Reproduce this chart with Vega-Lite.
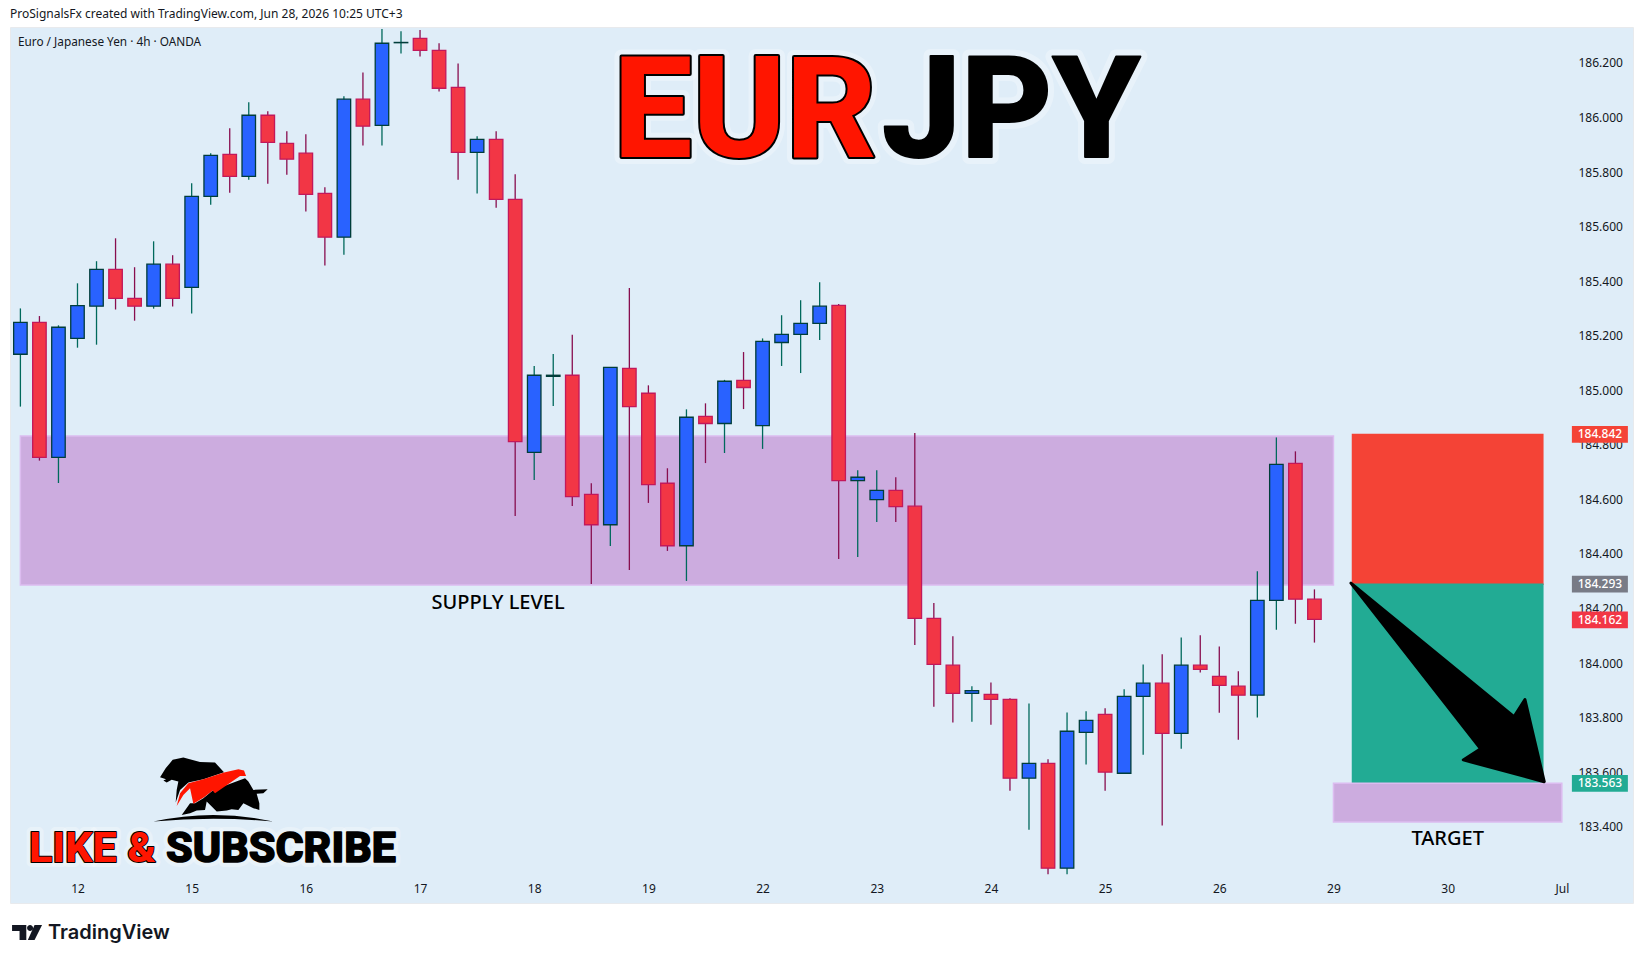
{
  "$schema": "https://vega.github.io/schema/vega-lite/v6.json",
  "width": 1623,
  "height": 876,
  "autosize": "none",
  "padding": {"left": 10, "top": 27, "right": 10, "bottom": 60},
  "background": "#ffffff",
  "view": {"fill": "#dfedf8", "stroke": "#e8eaed"},
  "title": {"text": "ProSignalsFx created with TradingView.com, Jun 28, 2026 10:25 UTC+3", "anchor": "start", "frame": "group", "offset": 6, "font": "Noto Sans", "fontSize": 12, "fontWeight": "normal", "color": "#131722"},
  "datasets": {
    "candles": [
      {"bar":0,"open":185.132,"high":185.300,"low":184.940,"close":185.249},
      {"bar":1,"open":185.249,"high":185.272,"low":184.742,"close":184.754},
      {"bar":2,"open":184.754,"high":185.238,"low":184.660,"close":185.231},
      {"bar":3,"open":185.190,"high":185.392,"low":185.156,"close":185.310},
      {"bar":4,"open":185.308,"high":185.473,"low":185.167,"close":185.443},
      {"bar":5,"open":185.443,"high":185.557,"low":185.296,"close":185.337},
      {"bar":6,"open":185.337,"high":185.451,"low":185.255,"close":185.308},
      {"bar":7,"open":185.308,"high":185.546,"low":185.299,"close":185.462},
      {"bar":8,"open":185.462,"high":185.495,"low":185.307,"close":185.337},
      {"bar":9,"open":185.377,"high":185.759,"low":185.281,"close":185.711},
      {"bar":10,"open":185.711,"high":185.869,"low":185.680,"close":185.861},
      {"bar":11,"open":185.865,"high":185.960,"low":185.724,"close":185.784},
      {"bar":12,"open":185.784,"high":186.056,"low":185.772,"close":186.008},
      {"bar":13,"open":186.008,"high":186.023,"low":185.757,"close":185.909},
      {"bar":14,"open":185.905,"high":185.949,"low":185.790,"close":185.847},
      {"bar":15,"open":185.869,"high":185.938,"low":185.655,"close":185.718},
      {"bar":16,"open":185.722,"high":185.744,"low":185.457,"close":185.561},
      {"bar":17,"open":185.561,"high":186.078,"low":185.497,"close":186.067},
      {"bar":18,"open":186.067,"high":186.165,"low":185.897,"close":185.968},
      {"bar":19,"open":185.971,"high":186.324,"low":185.897,"close":186.272},
      {"bar":20,"open":186.274,"high":186.316,"low":186.234,"close":186.275},
      {"bar":21,"open":186.290,"high":186.321,"low":186.223,"close":186.246},
      {"bar":22,"open":186.246,"high":186.272,"low":186.095,"close":186.107},
      {"bar":23,"open":186.110,"high":186.198,"low":185.772,"close":185.872},
      {"bar":24,"open":185.872,"high":185.931,"low":185.721,"close":185.920},
      {"bar":25,"open":185.920,"high":185.949,"low":185.669,"close":185.700},
      {"bar":26,"open":185.700,"high":185.792,"low":184.539,"close":184.812},
      {"bar":27,"open":184.772,"high":185.089,"low":184.671,"close":185.055},
      {"bar":28,"open":185.051,"high":185.133,"low":184.942,"close":185.055},
      {"bar":29,"open":185.055,"high":185.203,"low":184.576,"close":184.610},
      {"bar":30,"open":184.618,"high":184.659,"low":184.290,"close":184.507},
      {"bar":31,"open":184.507,"high":185.084,"low":184.429,"close":185.084},
      {"bar":32,"open":185.080,"high":185.375,"low":184.341,"close":184.940},
      {"bar":33,"open":184.989,"high":185.018,"low":184.587,"close":184.654},
      {"bar":34,"open":184.659,"high":184.714,"low":184.411,"close":184.430},
      {"bar":35,"open":184.430,"high":184.930,"low":184.301,"close":184.901},
      {"bar":36,"open":184.904,"high":184.952,"low":184.733,"close":184.878},
      {"bar":37,"open":184.878,"high":185.038,"low":184.770,"close":185.033},
      {"bar":38,"open":185.036,"high":185.140,"low":184.931,"close":185.010},
      {"bar":39,"open":184.870,"high":185.190,"low":184.785,"close":185.179},
      {"bar":40,"open":185.175,"high":185.275,"low":185.089,"close":185.205},
      {"bar":41,"open":185.205,"high":185.330,"low":185.063,"close":185.245},
      {"bar":42,"open":185.245,"high":185.396,"low":185.184,"close":185.308},
      {"bar":43,"open":185.311,"high":185.316,"low":184.381,"close":184.669},
      {"bar":44,"open":184.669,"high":184.707,"low":184.389,"close":184.681},
      {"bar":45,"open":184.599,"high":184.707,"low":184.517,"close":184.633},
      {"bar":46,"open":184.633,"high":184.681,"low":184.517,"close":184.573},
      {"bar":47,"open":184.575,"high":184.843,"low":184.066,"close":184.164},
      {"bar":48,"open":184.164,"high":184.220,"low":183.840,"close":183.995},
      {"bar":49,"open":183.992,"high":184.098,"low":183.782,"close":183.889},
      {"bar":50,"open":183.889,"high":183.915,"low":183.785,"close":183.899},
      {"bar":51,"open":183.885,"high":183.929,"low":183.774,"close":183.867},
      {"bar":52,"open":183.867,"high":183.871,"low":183.532,"close":183.578},
      {"bar":53,"open":183.578,"high":183.852,"low":183.389,"close":183.632},
      {"bar":54,"open":183.632,"high":183.647,"low":183.226,"close":183.248},
      {"bar":55,"open":183.248,"high":183.819,"low":183.226,"close":183.750},
      {"bar":56,"open":183.746,"high":183.823,"low":183.628,"close":183.790},
      {"bar":57,"open":183.812,"high":183.834,"low":183.532,"close":183.600},
      {"bar":58,"open":183.596,"high":183.904,"low":183.596,"close":183.878},
      {"bar":59,"open":183.878,"high":183.995,"low":183.664,"close":183.926},
      {"bar":60,"open":183.926,"high":184.032,"low":183.404,"close":183.742},
      {"bar":61,"open":183.742,"high":184.094,"low":183.686,"close":183.992},
      {"bar":62,"open":183.992,"high":184.102,"low":183.965,"close":183.977},
      {"bar":63,"open":183.951,"high":184.061,"low":183.818,"close":183.918},
      {"bar":64,"open":183.915,"high":183.970,"low":183.719,"close":183.882},
      {"bar":65,"open":183.882,"high":184.336,"low":183.800,"close":184.230},
      {"bar":66,"open":184.230,"high":184.827,"low":184.122,"close":184.728},
      {"bar":67,"open":184.732,"high":184.776,"low":184.144,"close":184.234},
      {"bar":68,"open":184.234,"high":184.270,"low":184.075,"close":184.160}
    ],
    "zones": [
      {"zone":"supply","from":0,"to":69,"top":184.832,"bottom":184.286},
      {"zone":"stop","from":70,"to":80,"top":184.838,"bottom":184.289},
      {"zone":"profit","from":70,"to":80,"top":184.289,"bottom":183.559},
      {"zone":"target","from":69,"to":81,"top":183.559,"bottom":183.417}
    ],
    "tags": [
      {"price":184.838,"label":"184.842","kind":"stop"},
      {"price":184.289,"label":"184.293","kind":"entry"},
      {"price":184.158,"label":"184.162","kind":"last"},
      {"price":183.559,"label":"183.563","kind":"target"}
    ]
  },
  "layer": [
    {
      "data": {"name": "zones"},
      "mark": {"type": "rect", "strokeWidth": 1.5},
      "encoding": {
        "x": {"field": "from", "type": "quantitative", "scale": {"domain": [-0.5465, 84.74], "nice": false, "zero": false, "padding": 0}, "title": null,
          "axis": {"orient": "bottom", "values": [3,9,15,21,27,33,39,45,51,57,63,69,75,81], "labelExpr": "['12','15','16','17','18','19','22','23','24','25','26','29','30','Jul'][(datum.value-3)/6]", "domain": false, "ticks": false, "grid": false, "offset": -20, "labelPadding": 0, "labelBaseline": "top", "labelFont": "Noto Sans", "labelFontSize": 12, "labelColor": "#131722", "labelOverlap": false, "labelFlush": false, "labelBound": false}},
        "x2": {"field": "to"},
        "y": {"field": "top", "type": "quantitative", "scale": {"domain": [183.1203, 186.3316], "nice": false, "zero": false, "padding": 0}, "title": null,
          "axis": {"orient": "right", "values": [183.4,183.6,183.8,184,184.2,184.4,184.6,184.8,185,185.2,185.4,185.6,185.8,186,186.2], "format": ".3f", "domain": false, "ticks": false, "grid": false, "offset": -55, "labelPadding": 0, "labelAlign": "left", "labelFont": "Noto Sans", "labelFontSize": 12, "labelColor": "#131722", "labelOverlap": false, "labelFlush": false, "labelBound": false}},
        "y2": {"field": "bottom"},
        "fill": {"field": "zone", "type": "nominal", "legend": null, "scale": {"domain": ["supply","stop","profit","target"], "range": ["#ccacdf","#f44336","#22ab94","#ccacdf"]}},
        "stroke": {"field": "zone", "type": "nominal", "legend": null, "scale": {"domain": ["supply","stop","profit","target"], "range": ["#dcbcf0","#f44336","#22ab94","#dcbcf0"]}}
      }
    },
    {
      "data": {"name": "candles"},
      "mark": {"type": "rule", "strokeWidth": 1.3},
      "encoding": {
        "x": {"field": "bar", "type": "quantitative"},
        "y": {"field": "low", "type": "quantitative"},
        "y2": {"field": "high"},
        "color": {"condition": {"test": "datum.close >= datum.open", "value": "#00695c"}, "value": "#880e4f"}
      }
    },
    {
      "data": {"name": "candles"},
      "mark": {"type": "bar", "size": 13.5, "strokeWidth": 1.3},
      "encoding": {
        "x": {"field": "bar", "type": "quantitative"},
        "y": {"field": "open", "type": "quantitative"},
        "y2": {"field": "close"},
        "fill": {"condition": {"test": "datum.close >= datum.open", "value": "#2962ff"}, "value": "#f23645"},
        "stroke": {"condition": {"test": "datum.close >= datum.open", "value": "#003d3a"}, "value": "#c2185b"}
      }
    },
    {
      "data": {"values": [{"bar": 75, "price": 183.929}]},
      "mark": {"type": "point", "filled": true, "opacity": 1, "color": "#000000", "stroke": "#000000", "strokeWidth": 3, "strokeJoin": "round", "size": 40000,
        "shape": "M-0.967,-0.993L0.663,0.343L0.773,0.171L0.966,0.993L0.156,0.775L0.33,0.664Z"},
      "encoding": {"x": {"field": "bar", "type": "quantitative"}, "y": {"field": "price", "type": "quantitative"}}
    },
    {
      "data": {"name": "tags"},
      "mark": {"type": "point", "filled": true, "opacity": 1, "size": 3136, "shape": "M-1,-0.3L1,-0.3L1,0.3L-1,0.3Z"},
      "encoding": {
        "x": {"datum": 83, "type": "quantitative"},
        "y": {"field": "price", "type": "quantitative"},
        "color": {"field": "kind", "type": "nominal", "legend": null, "scale": {"domain": ["stop","entry","last","target"], "range": ["#f44336","#787b86","#f23645","#22ab94"]}}
      }
    },
    {
      "data": {"name": "tags"},
      "mark": {"type": "text", "font": "Noto Sans", "fontSize": 12, "fontWeight": 500, "color": "#ffffff", "align": "center", "baseline": "middle"},
      "encoding": {
        "x": {"datum": 83, "type": "quantitative"},
        "y": {"field": "price", "type": "quantitative"},
        "text": {"field": "label"}
      }
    },
    {
      "data": {"values": [{"bar": -0.13, "price": 186.277, "label": "Euro / Japanese Yen · 4h · OANDA"}]},
      "mark": {"type": "text", "font": "Noto Sans", "fontSize": 11.8, "color": "#131722", "align": "left", "baseline": "middle"},
      "encoding": {"x": {"field": "bar", "type": "quantitative"}, "y": {"field": "price", "type": "quantitative"}, "text": {"field": "label"}}
    },
    {
      "data": {"values": [{"bar": 25.1, "price": 184.198, "label": "SUPPLY LEVEL"}, {"bar": 75, "price": 183.332, "label": "TARGET"}]},
      "mark": {"type": "text", "font": "Noto Sans", "fontSize": 20, "fontWeight": 500, "color": "#000000", "align": "center", "baseline": "alphabetic"},
      "encoding": {"x": {"field": "bar", "type": "quantitative"}, "y": {"field": "price", "type": "quantitative"}, "text": {"field": "label"}}
    },
    {
      "data": {"values": [{"bar": 45.01, "price": 185.855, "label": "EUR"}]},
      "mark": {"type": "text", "font": "Roboto", "fontSize": 141, "fontWeight": 800, "align": "right", "baseline": "alphabetic", "stroke": "#ffffff", "strokeWidth": 14, "strokeOpacity": 0.3, "strokeJoin": "round", "fill": "#ffffff"},
      "encoding": {"x": {"field": "bar", "type": "quantitative"}, "y": {"field": "price", "type": "quantitative"}, "text": {"field": "label"}}
    },
    {
      "data": {"values": [{"bar": 45.28, "price": 185.855, "label": "JPY"}]},
      "mark": {"type": "text", "font": "Roboto", "fontSize": 141, "fontWeight": 800, "align": "left", "baseline": "alphabetic", "stroke": "#ffffff", "strokeWidth": 14, "strokeOpacity": 0.3, "strokeJoin": "round", "fill": "#ffffff"},
      "encoding": {"x": {"field": "bar", "type": "quantitative"}, "y": {"field": "price", "type": "quantitative"}, "text": {"field": "label"}}
    },
    {
      "data": {"values": [{"bar": 45.01, "price": 185.855, "label": "EUR"}]},
      "mark": {"type": "text", "font": "Roboto", "fontSize": 141, "fontWeight": 800, "align": "right", "baseline": "alphabetic", "fill": "#000000", "stroke": "#000000", "strokeWidth": 4, "strokeJoin": "round"},
      "encoding": {"x": {"field": "bar", "type": "quantitative"}, "y": {"field": "price", "type": "quantitative"}, "text": {"field": "label"}}
    },
    {
      "data": {"values": [{"bar": 45.01, "price": 185.855, "label": "EUR"}]},
      "mark": {"type": "text", "font": "Roboto", "fontSize": 141, "fontWeight": 800, "align": "right", "baseline": "alphabetic", "fill": "#ff1500"},
      "encoding": {"x": {"field": "bar", "type": "quantitative"}, "y": {"field": "price", "type": "quantitative"}, "text": {"field": "label"}}
    },
    {
      "data": {"values": [{"bar": 45.28, "price": 185.855, "label": "JPY"}]},
      "mark": {"type": "text", "font": "Roboto", "fontSize": 141, "fontWeight": 800, "align": "left", "baseline": "alphabetic", "fill": "#000000", "stroke": "#000000", "strokeWidth": 2, "strokeJoin": "round"},
      "encoding": {"x": {"field": "bar", "type": "quantitative"}, "y": {"field": "price", "type": "quantitative"}, "text": {"field": "label"}}
    },
    {
      "data": {"values": [{"bar": 10.14, "price": 183.535}]},
      "mark": {"type": "point", "filled": true, "opacity": 1, "color": "#000000", "size": 16044,
        "shape": "M-0.842,-0.2L-0.753,-0.342L-0.642,-0.474L-0.474,-0.511L-0.211,-0.442L0.026,-0.432L0.168,-0.279L-0.158,-0.168L-0.395,-0.116L-0.526,0L-0.595,0.2L-0.579,0L-0.553,-0.132L-0.658,-0.158L-0.737,-0.116L-0.789,-0.147L-0.747,-0.168ZM0.5,-0.184L0.553,-0.132L0.632,0L0.858,-0.011L0.789,0.053L0.684,0.063L0.726,0.211L0.726,0.316L0.632,0.289L0.474,0.211L0.395,0.316L0.289,0.305L0.211,0.326L0.053,0.342L-0.105,0.184L-0.132,0.316L-0.263,0.326L-0.368,0.368L-0.5,0.395L-0.368,0.211L-0.289,0.211L-0.158,0.132L0,0ZM-0.947,0.5Q0,0.29,0.947,0.5Q0,0.41,-0.947,0.5Z"},
      "encoding": {"x": {"field": "bar", "type": "quantitative"}, "y": {"field": "price", "type": "quantitative"}}
    },
    {
      "data": {"values": [{"bar": 10.14, "price": 183.535}]},
      "mark": {"type": "point", "filled": true, "opacity": 1, "color": "#ff1500", "size": 16044,
        "shape": "M-0.579,0.253L-0.526,0.053L-0.395,-0.105L-0.158,-0.168L0.168,-0.274L0.395,-0.326L0.484,-0.305L0.516,-0.221L0.421,-0.221L0.026,0.053L-0.011,0.011L-0.147,0.116L-0.316,0.221L-0.368,-0.026L-0.474,0.079Z"},
      "encoding": {"x": {"field": "bar", "type": "quantitative"}, "y": {"field": "price", "type": "quantitative"}}
    },
    {
      "data": {"values": [{"bar": 7.12, "price": 183.271, "label": "LIKE &"}]},
      "mark": {"type": "text", "font": "Roboto", "fontSize": 43, "fontWeight": 800, "align": "right", "baseline": "alphabetic", "stroke": "#ffffff", "strokeWidth": 10, "strokeOpacity": 0.3, "strokeJoin": "round", "fill": "#ffffff"},
      "encoding": {"x": {"field": "bar", "type": "quantitative"}, "y": {"field": "price", "type": "quantitative"}, "text": {"field": "label"}}
    },
    {
      "data": {"values": [{"bar": 7.65, "price": 183.271, "label": "SUBSCRIBE"}]},
      "mark": {"type": "text", "font": "Roboto", "fontSize": 43, "fontWeight": 800, "align": "left", "baseline": "alphabetic", "stroke": "#ffffff", "strokeWidth": 10, "strokeOpacity": 0.3, "strokeJoin": "round", "fill": "#ffffff"},
      "encoding": {"x": {"field": "bar", "type": "quantitative"}, "y": {"field": "price", "type": "quantitative"}, "text": {"field": "label"}}
    },
    {
      "data": {"values": [{"bar": 7.12, "price": 183.271, "label": "LIKE &"}]},
      "mark": {"type": "text", "font": "Roboto", "fontSize": 43, "fontWeight": 800, "align": "right", "baseline": "alphabetic", "fill": "#000000", "stroke": "#000000", "strokeWidth": 2, "strokeJoin": "round"},
      "encoding": {"x": {"field": "bar", "type": "quantitative"}, "y": {"field": "price", "type": "quantitative"}, "text": {"field": "label"}}
    },
    {
      "data": {"values": [{"bar": 7.12, "price": 183.271, "label": "LIKE &"}]},
      "mark": {"type": "text", "font": "Roboto", "fontSize": 43, "fontWeight": 800, "align": "right", "baseline": "alphabetic", "fill": "#ff1500"},
      "encoding": {"x": {"field": "bar", "type": "quantitative"}, "y": {"field": "price", "type": "quantitative"}, "text": {"field": "label"}}
    },
    {
      "data": {"values": [{"bar": 7.65, "price": 183.271, "label": "SUBSCRIBE"}]},
      "mark": {"type": "text", "font": "Roboto", "fontSize": 43, "fontWeight": 800, "align": "left", "baseline": "alphabetic", "fill": "#000000", "stroke": "#000000", "strokeWidth": 1.5, "strokeJoin": "round"},
      "encoding": {"x": {"field": "bar", "type": "quantitative"}, "y": {"field": "price", "type": "quantitative"}, "text": {"field": "label"}}
    },
    {
      "data": {"values": [{"bar": 1.45, "price": 182.988, "label": "TradingView"}]},
      "mark": {"type": "text", "font": "Inter", "fontSize": 20, "fontWeight": 600, "align": "left", "baseline": "alphabetic", "color": "#131722"},
      "encoding": {"x": {"field": "bar", "type": "quantitative"}, "y": {"field": "price", "type": "quantitative"}, "text": {"field": "label"}}
    },
    {
      "data": {"values": [{"bar": 0.35, "price": 183.012}]},
      "mark": {"type": "point", "filled": true, "opacity": 1, "color": "#131722", "size": 900,
        "shape": "M-1,-0.5L-0.05,-0.5L-0.05,0.5L-0.5,0.5L-0.5,-0.1L-1,-0.1ZM0,-0.3A0.2,0.2,0,1,0,0.4,-0.3A0.2,0.2,0,1,0,0,-0.3ZM0.5,-0.5L1,-0.5L0.5,0.5L0.05,0.5Z"},
      "encoding": {"x": {"field": "bar", "type": "quantitative"}, "y": {"field": "price", "type": "quantitative"}}
    }
  ]
}
